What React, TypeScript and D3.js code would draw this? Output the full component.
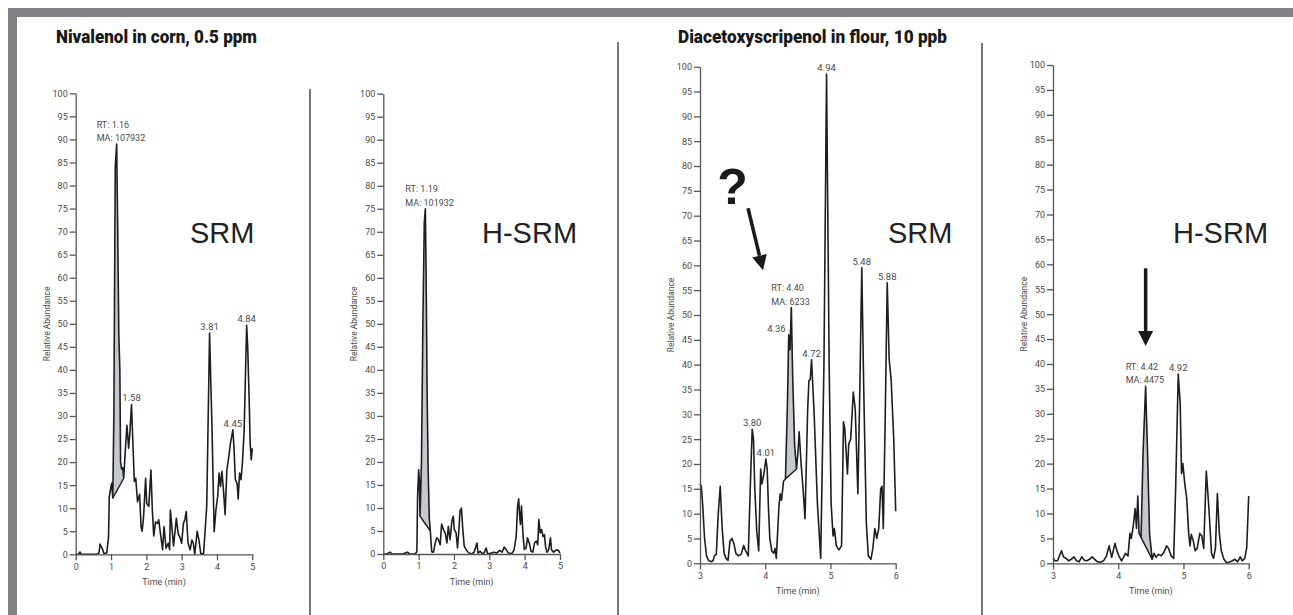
import React, { useEffect, useRef } from 'react';
import * as d3 from 'd3';

type Pt = [number, number];

// relative abundance (%) vs retention time (min)
const nivalenolSRM: Pt[] = [
  [0, 0], [0.08, 0], [0.12, 0.5], [0.16, 0], [0.3, 0], [0.45, 0], [0.6, 0], [0.66, 0.3], [0.69, 2.2], [0.75, 1.3],
  [0.8, 0.2], [0.88, 0.3], [0.93, 3.8], [0.95, 12.5], [1.0, 14.7], [1.02, 15.4], [1.05, 12.2], [1.08, 30], [1.12, 84],
  [1.16, 89], [1.19, 70], [1.22, 48], [1.25, 40], [1.27, 20], [1.3, 18.5], [1.33, 18.8], [1.36, 16.5], [1.4, 22],
  [1.45, 28], [1.5, 23], [1.53, 26], [1.58, 32.5], [1.62, 24], [1.66, 15.8], [1.7, 16.5], [1.75, 11.4], [1.81, 13],
  [1.85, 6], [1.88, 5], [1.92, 8], [1.98, 16.5], [2.01, 11], [2.07, 10.4], [2.13, 18.3], [2.17, 9.6], [2.21, 4],
  [2.26, 7], [2.32, 6.7], [2.35, 7.5], [2.4, 4.5], [2.46, 1], [2.5, 6], [2.56, 1.3], [2.62, 2.4], [2.66, 1],
  [2.68, 9.6], [2.73, 5.3], [2.77, 1.8], [2.85, 7.8], [2.9, 4.5], [2.96, 3.5], [3.0, 2.4], [3.05, 6.7], [3.09, 7.5],
  [3.13, 9.3], [3.18, 2.4], [3.24, 1], [3.29, 3.1], [3.33, 2.4], [3.37, 0], [3.44, 5], [3.49, 3], [3.54, 0.2],
  [3.62, 0], [3.71, 10.4], [3.79, 48], [3.86, 27], [3.92, 4.9], [3.97, 9.6], [4.02, 12.5], [4.06, 17.6], [4.1, 14.7],
  [4.14, 18], [4.19, 13.3], [4.23, 8.6], [4.28, 18.3], [4.33, 20.9], [4.38, 24], [4.45, 27], [4.48, 23.4],
  [4.52, 16.2], [4.57, 15.4], [4.6, 12], [4.64, 17.6], [4.68, 16.2], [4.72, 19.8], [4.77, 27], [4.84, 49.7],
  [4.87, 45], [4.91, 34], [4.94, 24], [4.97, 20.5], [5.0, 23],
];

const nivalenolHSRM: Pt[] = [
  [0, 0], [0.1, 0], [0.19, 0.4], [0.25, 0], [0.4, 0], [0.55, 0], [0.68, 0.4], [0.75, 0], [0.9, 0], [0.95, 0.5],
  [0.97, 12.5], [1.0, 18.3], [1.02, 16], [1.04, 8.2], [1.08, 20], [1.12, 50], [1.16, 72], [1.19, 75], [1.21, 62],
  [1.24, 35], [1.27, 18], [1.3, 8], [1.33, 5], [1.37, 0.5], [1.42, 0.4], [1.47, 2.4], [1.51, 3.5], [1.56, 3.1],
  [1.61, 2], [1.65, 6.5], [1.7, 5.3], [1.75, 4.6], [1.8, 2.4], [1.84, 6], [1.89, 3.1], [1.94, 7.1], [1.98, 8.2],
  [2.01, 5.3], [2.06, 4.6], [2.1, 1.3], [2.14, 5.3], [2.17, 9.3], [2.21, 10], [2.25, 5.3], [2.29, 1.7], [2.34, 1],
  [2.41, 0.3], [2.5, 0], [2.57, 0.4], [2.65, 2.4], [2.68, 0.2], [2.74, 0.6], [2.8, 0.1], [2.85, 0.2], [2.91, 1.3],
  [2.95, 0.1], [3.02, 0.1], [3.12, 0.4], [3.21, 0.2], [3.29, 0.8], [3.36, 0.4], [3.42, 1.5], [3.48, 0.9],
  [3.54, 0.2], [3.64, 0.1], [3.7, 0.9], [3.76, 3.8], [3.8, 10.4], [3.83, 12], [3.86, 8.2], [3.88, 6.4], [3.91, 10.4],
  [3.95, 4.6], [3.99, 1], [4.04, 1.3], [4.08, 3.5], [4.13, 2.4], [4.18, 0.6], [4.23, 0.4], [4.28, 2.4], [4.33, 2.8],
  [4.37, 2], [4.4, 7.5], [4.44, 4.6], [4.48, 5.3], [4.52, 3.8], [4.56, 4.2], [4.59, 1.7], [4.63, 0.4], [4.68, 0.9],
  [4.73, 3.5], [4.76, 0.9], [4.82, 0.4], [4.88, 0.8], [4.93, 0.9], [4.97, 0.6], [5.0, 0.2],
];

const dasSRM: Pt[] = [
  [3.0, 16], [3.02, 15.5], [3.04, 12], [3.07, 5], [3.1, 1.5], [3.13, 0.6], [3.17, 0.3], [3.2, 0.5], [3.22, 1.5],
  [3.25, 1.8], [3.28, 10], [3.31, 15.5], [3.34, 7], [3.37, 2], [3.4, 1], [3.43, 0.6], [3.46, 4.5], [3.49, 5],
  [3.52, 4], [3.55, 2], [3.59, 1.5], [3.63, 1.8], [3.67, 3.6], [3.7, 2.5], [3.74, 1.5], [3.77, 15], [3.8, 27],
  [3.82, 25], [3.84, 15], [3.87, 6.5], [3.9, 2.5], [3.93, 19], [3.95, 16], [3.98, 18], [4.01, 21], [4.03, 19],
  [4.05, 11], [4.07, 5], [4.1, 2.5], [4.13, 2], [4.15, 3], [4.17, 1], [4.21, 11.4], [4.23, 14], [4.25, 12.7],
  [4.28, 16.5], [4.31, 17], [4.34, 32], [4.36, 46], [4.38, 43], [4.4, 51.5], [4.42, 38], [4.45, 24], [4.48, 19],
  [4.5, 22], [4.52, 26.5], [4.55, 20], [4.58, 15], [4.61, 9], [4.65, 30.8], [4.67, 36.8], [4.69, 37], [4.71, 41],
  [4.75, 30], [4.8, 12], [4.85, 1], [4.9, 40], [4.94, 98.5], [4.98, 40], [5.01, 12], [5.04, 5.5], [5.06, 7],
  [5.09, 3.5], [5.13, 2.7], [5.17, 3.5], [5.2, 28.5], [5.22, 27], [5.26, 18], [5.28, 24], [5.31, 25], [5.35, 34.5],
  [5.38, 31], [5.42, 14], [5.45, 35], [5.48, 59.5], [5.51, 35], [5.55, 8], [5.58, 1.5], [5.62, 0.8], [5.65, 3],
  [5.68, 7], [5.71, 5], [5.74, 7], [5.77, 15], [5.79, 15.5], [5.81, 7], [5.84, 30], [5.87, 56.5], [5.9, 41],
  [5.93, 37], [5.97, 25], [6.0, 10.5],
];

const dasHSRM: Pt[] = [
  [3.0, 1], [3.03, 0.5], [3.07, 0.5], [3.1, 1.5], [3.13, 2.5], [3.16, 1.3], [3.2, 1], [3.24, 0.5], [3.28, 0.8],
  [3.32, 1.3], [3.36, 0.5], [3.4, 0.3], [3.44, 1.3], [3.48, 0.6], [3.52, 0.5], [3.56, 0.8], [3.6, 1.3], [3.64, 0.8],
  [3.68, 0.3], [3.73, 0.2], [3.78, 0.6], [3.82, 1.5], [3.86, 3.5], [3.9, 1.2], [3.95, 4], [3.98, 2.5], [4.01, 1.5],
  [4.05, 0.5], [4.08, 1.2], [4.11, 2], [4.15, 1.5], [4.18, 6], [4.2, 5], [4.23, 7.5], [4.26, 11], [4.28, 7],
  [4.3, 13.5], [4.32, 6], [4.35, 5.2], [4.38, 22], [4.42, 35.5], [4.45, 22], [4.48, 6], [4.52, 0.8], [4.55, 2],
  [4.58, 1.2], [4.62, 1.8], [4.66, 1.5], [4.7, 2.2], [4.74, 3.5], [4.77, 3], [4.81, 1.5], [4.85, 1], [4.88, 15],
  [4.92, 38], [4.95, 32], [4.97, 18], [4.99, 20], [5.02, 16], [5.05, 13], [5.08, 6], [5.1, 3.5], [5.12, 5.8],
  [5.15, 4.5], [5.18, 2.5], [5.21, 3], [5.25, 6], [5.28, 5.5], [5.31, 3], [5.35, 18.5], [5.39, 11], [5.43, 2],
  [5.46, 1], [5.49, 3], [5.52, 14], [5.55, 6], [5.58, 2.5], [5.62, 0.8], [5.66, 0.1], [5.7, 0.2], [5.75, 0.5],
  [5.79, 0.8], [5.83, 0.3], [5.87, 1.3], [5.9, 0.5], [5.94, 1], [5.97, 3.2], [6.0, 13.5],
];

const abundanceTicks = [0, 5, 10, 15, 20, 25, 30, 35, 40, 45, 50, 55, 60, 65, 70, 75, 80, 85, 90, 95, 100];
const nivalenolTimeTicks = [0, 1, 2, 3, 4, 5];
const dasTimeTicks = [3, 4, 5, 6];

// labelled peaks (retention time, label text)
const nivalenolSRMPeaks = [
  { t: 1.58, text: '1.58' }, { t: 3.79, text: '3.81' }, { t: 4.84, text: '4.84' }, { t: 4.45, text: '4.45' },
];
const dasSRMPeaks = [
  { t: 3.8, text: '3.80' }, { t: 4.01, text: '4.01' }, { t: 4.36, text: '4.36', anchor: 'end' },
  { t: 4.71, text: '4.72' }, { t: 4.94, text: '4.94' }, { t: 5.48, text: '5.48' }, { t: 5.87, text: '5.88' },
];
const dasHSRMPeaks = [{ t: 4.92, text: '4.92' }];

// integrated peak: retention time, area, integration window
const nivalenolSRMRT = { t: 1.16, lines: ['RT: 1.16', 'MA: 107932'], from: 1.05, to: 1.36 };
const nivalenolHSRMRT = { t: 1.19, lines: ['RT: 1.19', 'MA: 101932'], from: 1.04, to: 1.33 };
const dasSRMRT = { t: 4.4, lines: ['RT: 4.40', 'MA: 6233'], from: 4.31, to: 4.48 };
const dasHSRMRT = { t: 4.42, lines: ['RT: 4.42', 'MA: 4475'], from: 4.35, to: 4.52 };

const SMALL = "Roboto, 'Liberation Sans', sans-serif";
const SANS = "'Liberation Sans', Arial, Helvetica, sans-serif";

const panels = [
  { series: nivalenolSRM, domain: [0, 5], ticks: nivalenolTimeTicks, x0: 75.7, x1: 252.3, yTop: 93.3, yBottom: 554.3,
    mode: 'SRM', modeX: 190, peaks: nivalenolSRMPeaks, rt: nivalenolSRMRT },
  { series: nivalenolHSRM, domain: [0, 5], ticks: nivalenolTimeTicks, x0: 383.3, x1: 560, yTop: 93.7, yBottom: 554,
    mode: 'H-SRM', modeX: 482, peaks: [] as any[], rt: nivalenolHSRMRT },
  { series: dasSRM, domain: [3, 6], ticks: dasTimeTicks, x0: 700, x1: 895.7, yTop: 66.7, yBottom: 563.3,
    mode: 'SRM', modeX: 888, peaks: dasSRMPeaks, rt: dasSRMRT },
  { series: dasHSRM, domain: [3, 6], ticks: dasTimeTicks, x0: 1053, x1: 1248.7, yTop: 65, yBottom: 563.3,
    mode: 'H-SRM', modeX: 1173, peaks: dasHSRMPeaks, rt: dasHSRMRT },
];

const App = () => {
  const ref = useRef<SVGSVGElement>(null);

  useEffect(() => {
    const svg = d3.select(ref.current);
    svg.selectAll('*').remove();

    // frame
    svg.append('rect').attr('x', 8).attr('y', 8).attr('width', 1285).attr('height', 9).attr('fill', '#808285');
    svg.append('rect').attr('x', 8).attr('y', 8).attr('width', 9).attr('height', 607).attr('fill', '#808285');

    // separators
    [[310, 89], [618, 42], [982, 43]].forEach(([x, top]) => {
      svg.append('line').attr('x1', x).attr('x2', x).attr('y1', top).attr('y2', 615)
        .attr('stroke', '#4a4a4a').attr('stroke-width', 1.5);
    });

    // condensed bold titles
    const title = (x: number, w: number, s: string) => svg.append('text').attr('x', x).attr('y', 43)
      .attr('font-family', SMALL).attr('font-weight', 900).attr('font-size', 19)
      .attr('textLength', w).attr('lengthAdjust', 'spacingAndGlyphs')
      .attr('fill', '#1a1a1a').text(s);
    title(56, 201, 'Nivalenol in corn, 0.5 ppm');
    title(678, 269, 'Diacetoxyscripenol in flour, 10 ppb');

    const charts: any[] = [];

    panels.forEach(p => {
      const x = d3.scaleLinear().domain(p.domain).range([p.x0, p.x1]);
      const y = d3.scaleLinear().domain([0, 100]).range([p.yBottom, p.yTop]);
      const g = svg.append('g');
      charts.push({ x, y, g });

      // integrated area
      const a = p.series.find(d => d[0] === p.rt.from)!;
      const b = p.series.find(d => d[0] === p.rt.to)!;
      const base = (t: number) => a[1] + (b[1] - a[1]) * (t - a[0]) / (b[0] - a[0]);
      const seg = p.series.filter(d => d[0] >= a[0] && d[0] <= b[0]);
      g.append('path').datum(seg)
        .attr('d', d3.area<Pt>().x(d => x(d[0])).y0(d => y(base(d[0]))).y1(d => y(d[1])))
        .attr('fill', '#c5c8ce');
      g.append('line').attr('x1', x(a[0])).attr('y1', y(a[1])).attr('x2', x(b[0])).attr('y2', y(b[1]))
        .attr('stroke', '#1e1e1e').attr('stroke-width', 1.4);

      g.append('path').datum(p.series)
        .attr('d', d3.line<Pt>().x(d => x(d[0])).y(d => y(d[1])))
        .attr('fill', 'none').attr('stroke', '#1e1e1e').attr('stroke-width', 1.6).attr('stroke-linejoin', 'round');

      const styleAxis = (ax: any) => {
        ax.selectAll('path, line').attr('stroke', '#555').attr('stroke-width', 1.3);
        ax.selectAll('text').attr('fill', '#4a4a4a').attr('font-family', SMALL).attr('font-size', 9);
      };
      g.append('g').attr('transform', `translate(0,${p.yBottom})`)
        .call(d3.axisBottom(x).tickValues(p.ticks).tickFormat(d3.format('d')).tickSize(6).tickPadding(3).tickSizeOuter(0))
        .call(styleAxis);
      g.append('g').attr('transform', `translate(${p.x0},0)`)
        .call(d3.axisLeft(y).tickValues(abundanceTicks).tickFormat(d3.format('d')).tickSize(6).tickPadding(2).tickSizeOuter(0))
        .call(styleAxis);

      g.append('text').attr('x', (p.x0 + p.x1) / 2).attr('y', p.yBottom + 31).attr('text-anchor', 'middle')
        .attr('font-family', SMALL).attr('font-size', 9).attr('fill', '#4a4a4a').text('Time (min)');
      g.append('text')
        .attr('transform', `translate(${p.x0 - 26},${(p.yTop + p.yBottom) / 2}) rotate(-90)`)
        .attr('text-anchor', 'middle').attr('font-family', SMALL).attr('font-size', 8.5)
        .attr('fill', '#4a4a4a').text('Relative Abundance');

      g.append('text').attr('x', p.modeX).attr('y', 243).attr('font-family', SANS).attr('font-size', 29)
        .attr('fill', '#222').text(p.mode);

      // peak labels
      p.peaks.forEach((pk: any) => {
        const v = p.series.find(d => d[0] === pk.t)![1];
        g.append('text')
          .attr('x', x(pk.t) + (pk.anchor === 'end' ? -3 : 0)).attr('y', y(v) - 3)
          .attr('text-anchor', pk.anchor || 'middle')
          .attr('font-family', SMALL).attr('font-size', 9.5).attr('fill', '#4a4a4a').text(pk.text);
      });

      // RT / MA annotation
      const rv = p.series.find(d => d[0] === p.rt.t)![1];
      p.rt.lines.forEach((s, i) => {
        g.append('text').attr('x', x(p.rt.t) - 20).attr('y', y(rv) - 3 - (1 - i) * 13.5)
          .attr('font-family', SMALL).attr('font-size', 9).attr('fill', '#4a4a4a').text(s);
      });
    });

    const arrow = (c: any, from: Pt, to: Pt) => {
      const x1 = c.x(from[0]), y1 = c.y(from[1]), x2 = c.x(to[0]), y2 = c.y(to[1]);
      const ang = Math.atan2(y2 - y1, x2 - x1);
      const hl = 15, hw = 7.5;
      const bx = x2 - hl * Math.cos(ang), by = y2 - hl * Math.sin(ang);
      c.g.append('line').attr('x1', x1).attr('y1', y1).attr('x2', bx).attr('y2', by)
        .attr('stroke', '#1a1a1a').attr('stroke-width', 3.5);
      const px = -Math.sin(ang) * hw, py = Math.cos(ang) * hw;
      c.g.append('path').attr('d', `M${x2},${y2}L${bx + px},${by + py}L${bx - px},${by - py}Z`).attr('fill', '#1a1a1a');
    };
    arrow(charts[2], [3.736, 71.5], [3.966, 59]);
    arrow(charts[3], [4.42, 59.2], [4.42, 43.6]);

    charts[2].g.append('text').attr('x', charts[2].x(3.5)).attr('y', charts[2].y(72.3))
      .attr('text-anchor', 'middle').attr('font-family', SANS).attr('font-weight', 'bold')
      .attr('font-size', 50).attr('fill', '#1a1a1a').text('?');
  }, []);

  return (
    <svg ref={ref} width={1293} height={615}
      style={{ position: 'absolute', left: 0, top: 0, display: 'block', background: '#fff' }} />
  );
};

export default App;
